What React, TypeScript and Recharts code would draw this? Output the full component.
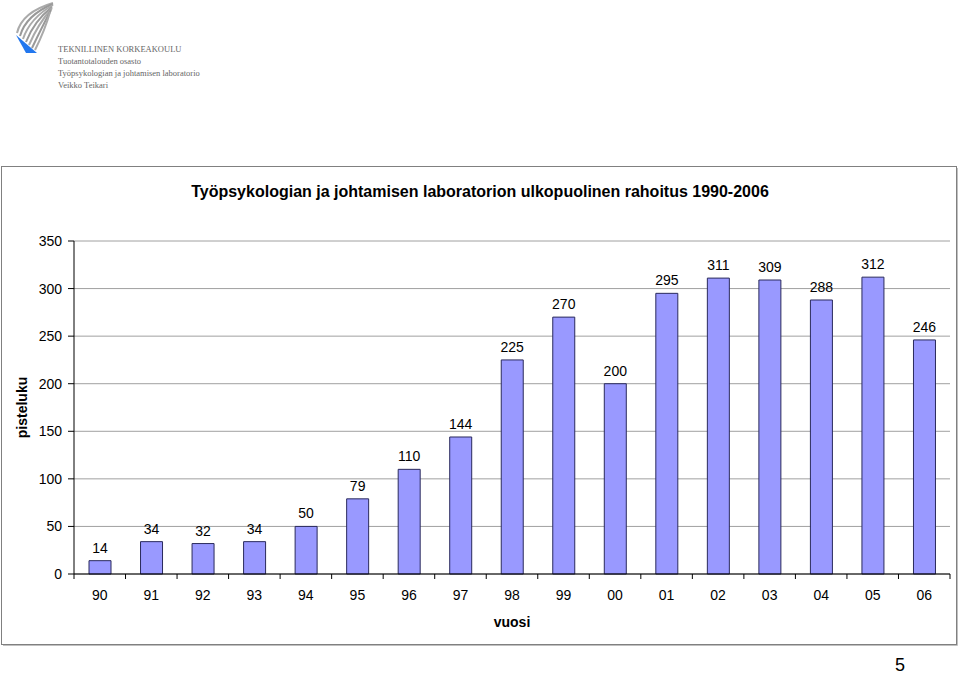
import React from 'react';
import { BarChart, Bar, XAxis, YAxis, CartesianGrid, LabelList, Label } from 'recharts';

const years = ['90', '91', '92', '93', '94', '95', '96', '97', '98', '99', '00', '01', '02', '03', '04', '05', '06'];
const values = [14, 34, 32, 34, 50, 79, 110, 144, 225, 270, 200, 295, 311, 309, 288, 312, 246];
const yTicks = [0, 50, 100, 150, 200, 250, 300, 350];

const data = years.map((y, i) => ({ year: y, value: values[i] }));

const FONT = '"Liberation Sans", Arial, sans-serif';

const XTick = (props: any) => {
  const { x, y, payload, width, visibleTicksCount, index } = props;
  const step = width / visibleTicksCount;
  const axisY = y - 16;
  return (
    <g>
      <line x1={x - step / 2} x2={x - step / 2} y1={axisY} y2={axisY + 5} stroke="#000" />
      {index === visibleTicksCount - 1 && (
        <line x1={x + step / 2} x2={x + step / 2} y1={axisY} y2={axisY + 5} stroke="#000" />
      )}
      <text x={x} y={y} dy="0.71em" textAnchor="middle" fontSize={14} fontFamily={FONT} fill="#000">
        {payload.value}
      </text>
    </g>
  );
};

const Logo = () => (
  <svg width={60} height={56} style={{ position: 'absolute', left: 0, top: 0 }}>
    <path d="M17 33 Q22 12 53 3" stroke="#aaa" strokeWidth={2} fill="none" />
    <path d="M20 36 Q26 15 53 4" stroke="#999" strokeWidth={2} fill="none" />
    <path d="M23 39 Q30 18 53 5" stroke="#aaa" strokeWidth={2} fill="none" />
    <path d="M26 42 Q34 21 52 7" stroke="#999" strokeWidth={2} fill="none" />
    <path d="M29 45 Q38 24 52 8" stroke="#aaa" strokeWidth={2} fill="none" />
    <path d="M32 48 Q42 27 51 10" stroke="#999" strokeWidth={2} fill="none" />
    <path d="M35 50 Q45 30 50 12" stroke="#aaa" strokeWidth={2} fill="none" />
    <polygon points="16,35 37,53 26,53" fill="#2277ee" />
  </svg>
);

const logoLines = [
  'TEKNILLINEN KORKEAKOULU',
  'Tuotantotalouden osasto',
  'Työpsykologian ja johtamisen laboratorio',
  'Veikko Teikari',
];

export default function App() {
  return (
    <div style={{ position: 'absolute', left: 0, top: 0, width: 960, height: 676, background: '#fff' }}>
      <Logo />
      {logoLines.map((t, i) => (
        <div
          key={i}
          style={{
            position: 'absolute',
            left: 58,
            top: 44 + i * 12,
            fontFamily: '"Liberation Serif", serif',
            fontSize: 8.5,
            color: '#666',
            whiteSpace: 'nowrap',
            lineHeight: '10px',
          }}
        >
          {t}
        </div>
      ))}
      <div
        style={{
          position: 'absolute',
          left: 0,
          top: 181,
          width: 960,
          textAlign: 'center',
          fontFamily: FONT,
          fontWeight: 'bold',
          fontSize: 16,
          lineHeight: '22px',
          color: '#000',
        }}
      >
        Työpsykologian ja johtamisen laboratorion ulkopuolinen rahoitus 1990-2006
      </div>
      <div style={{ position: 'absolute', left: 0, top: 0, width: 960, height: 676 }}>
        <BarChart
          width={960}
          height={676}
          data={data}
          margin={{ top: 241, right: 10, left: 14, bottom: 72 }}
        >
          <CartesianGrid vertical={false} stroke="#a0a0a0" />
          <XAxis
            dataKey="year"
            height={30}
            tickLine={false}
            axisLine={{ stroke: '#000' }}
            tick={<XTick />}
            tickMargin={10}
            interval={0}
          >
            <Label
              content={(p: any) => (
                <text
                  x={p.viewBox.x + p.viewBox.width / 2}
                  y={p.viewBox.y + 53}
                  textAnchor="middle"
                  fontFamily={FONT}
                  fontWeight="bold"
                  fontSize={14}
                  fill="#000"
                >
                  vuosi
                </text>
              )}
            />
          </XAxis>
          <YAxis
            width={60}
            domain={[0, 350]}
            ticks={yTicks}
            interval={0}
            tickSize={6}
            tickMargin={6}
            axisLine={{ stroke: '#000' }}
            tickLine={{ stroke: '#000' }}
            tick={{ fontSize: 14, fontFamily: FONT, fill: '#000' }}
          >
            <Label
              content={(p: any) => {
                const cx = 22;
                const cy = p.viewBox.y + p.viewBox.height / 2;
                return (
                  <text
                    x={cx}
                    y={cy}
                    transform={`rotate(-90 ${cx} ${cy})`}
                    textAnchor="middle"
                    dominantBaseline="central"
                    fontFamily={FONT}
                    fontWeight="bold"
                    fontSize={14}
                    fill="#000"
                  >
                    pisteluku
                  </text>
                );
              }}
            />
          </YAxis>
          <YAxis
            yAxisId="right"
            orientation="right"
            width={0}
            domain={[0, 350]}
            tick={false}
            tickLine={false}
            axisLine={{ stroke: '#999' }}
          />
          <Bar dataKey="value" fill="#9999ff" stroke="#2a2a5c" strokeWidth={1} barSize={22} isAnimationActive={false}>
            <LabelList dataKey="value" position="top" offset={8} fontSize={14} fontFamily={FONT} fill="#000" />
          </Bar>
        </BarChart>
      </div>
      <svg
        width={960}
        height={676}
        style={{ position: 'absolute', left: 0, top: 0, pointerEvents: 'none' }}
      >
        <rect x={1.5} y={166.5} width={955} height={478} fill="none" stroke="#808080" strokeWidth={1} />
        <line x1={3} y1={645.5} x2={957.5} y2={645.5} stroke="#c0c0c0" />
        <line x1={957.5} y1={168} x2={957.5} y2={645.5} stroke="#c0c0c0" />
        <text x={900} y={671} textAnchor="middle" fontFamily={FONT} fontSize={18} fill="#000">
          5
        </text>
      </svg>
    </div>
  );
}
